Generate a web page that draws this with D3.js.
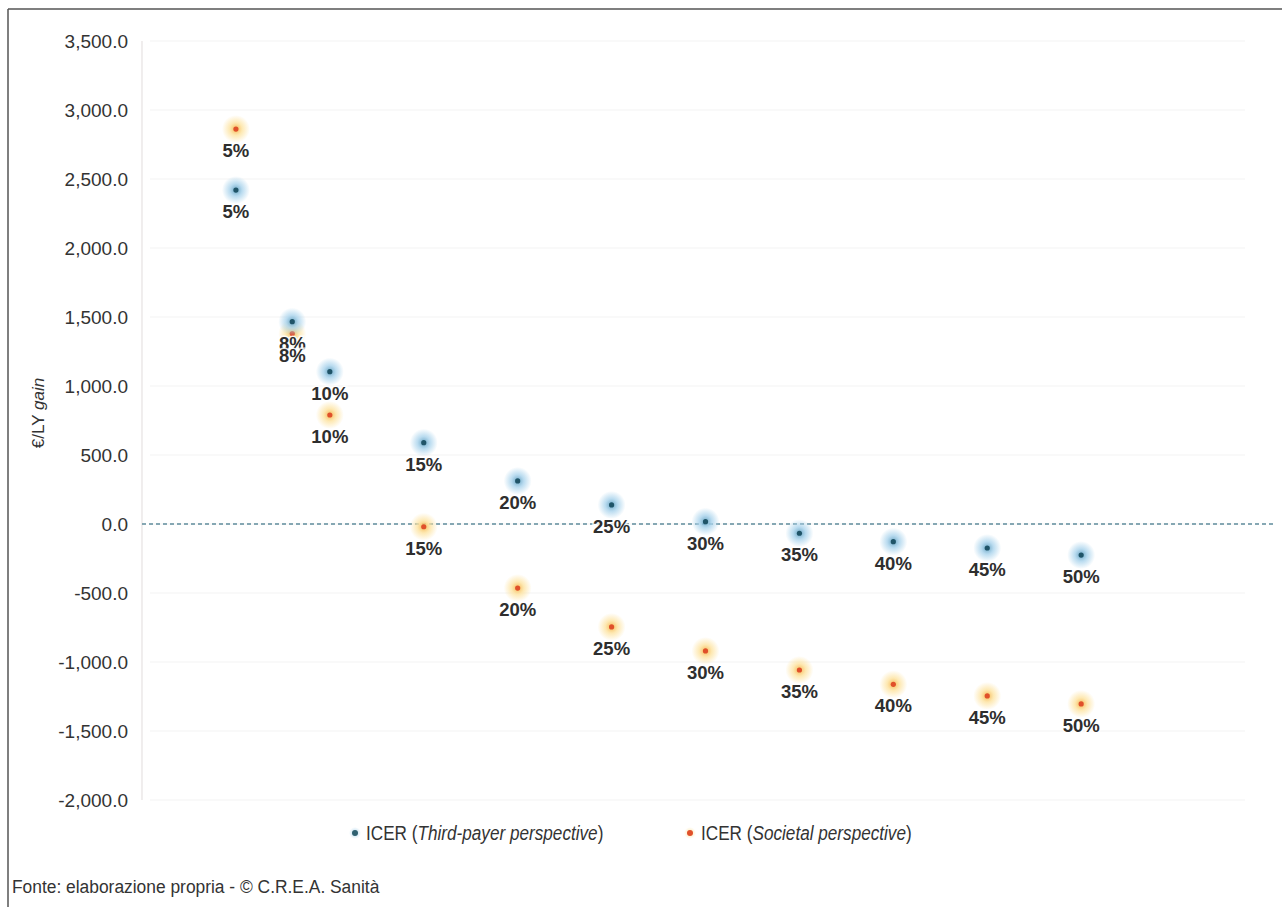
<!DOCTYPE html>
<html>
<head>
<meta charset="utf-8">
<script src="https://cdn.jsdelivr.net/npm/d3@7"></script>
<style>
  html, body { margin: 0; padding: 0; background: #fff; }
  svg { display: block; }
</style>
</head>
<body>
<svg id="chart" width="1282" height="907"></svg>
<script>
// ---- data ----
const categories = [5, 8, 10, 15, 20, 25, 30, 35, 40, 45, 50];
const categoryLabels = ["5%", "8%", "10%", "15%", "20%", "25%", "30%", "35%", "40%", "45%", "50%"];
const thirdPayer = [2420, 1466, 1104, 589, 312, 138, 17, -67, -128, -174, -225];
const societal = [2862, 1380, 790, -20, -464, -746, -920, -1058, -1162, -1246, -1304];
const yTicks = [-2000, -1500, -1000, -500, 0, 500, 1000, 1500, 2000, 2500, 3000, 3500];
const seriesNames = ["Third-payer perspective", "Societal perspective"];

const svg = d3.select("#chart");
const W = 1282, H = 907;

const x = d3.scaleLinear().domain([0, 60]).range([142, 1269]);
const y = d3.scaleLinear().domain([-2000, 3500]).range([800, 41]);

// defs: glows
const defs = svg.append("defs");
function glow(id, c1, c2) {
  const g = defs.append("radialGradient").attr("id", id);
  g.append("stop").attr("offset", "0%").attr("stop-color", c1).attr("stop-opacity", 0.95);
  g.append("stop").attr("offset", "45%").attr("stop-color", c2).attr("stop-opacity", 0.8);
  g.append("stop").attr("offset", "100%").attr("stop-color", c2).attr("stop-opacity", 0);
}
glow("gBlue", "#5f9fc0", "#a9d3ec");
glow("gOrange", "#f5b44a", "#fde3a0");

// frame
svg.append("line").attr("x1", 8).attr("x2", W).attr("y1", 9).attr("y2", 9)
  .attr("stroke", "#555").attr("stroke-width", 1.5);
svg.append("line").attr("x1", 8).attr("x2", 8).attr("y1", 9).attr("y2", H)
  .attr("stroke", "#555").attr("stroke-width", 1.5);

// faint gridlines
svg.append("g").selectAll("line").data(yTicks).join("line")
  .attr("x1", 150).attr("x2", 1245)
  .attr("y1", d => y(d)).attr("y2", d => y(d))
  .attr("stroke", "#f3f3f3").attr("stroke-width", 1);

// y axis line
svg.append("line").attr("x1", 142).attr("x2", 142).attr("y1", y(3500)).attr("y2", y(-2000))
  .attr("stroke", "#e6e2e2").attr("stroke-width", 1.2);

// y axis labels
const fmt = d3.format(",.1f");
const yAxis = d3.axisLeft(y).tickValues(yTicks)
  .tickFormat(d => fmt(d).replace("\u2212", "-")).tickSize(0).tickPadding(14);
const ga = svg.append("g").attr("transform", "translate(142,0)").call(yAxis);
ga.select(".domain").remove();
ga.selectAll("text")
  .attr("font-family", "'Liberation Sans', Arial, sans-serif")
  .attr("font-size", 19).attr("fill", "#333");

// y title
const yt = svg.append("text")
  .attr("transform", `translate(44,413) rotate(-90)`)
  .attr("text-anchor", "middle")
  .attr("font-family", "'Liberation Sans', Arial, sans-serif")
  .attr("font-size", 17).attr("fill", "#333");
yt.append("tspan").text("€/LY ");
yt.append("tspan").attr("font-style", "italic").text("gain");

// zero dashed line
svg.append("line").attr("x1", 142).attr("x2", 1275).attr("y1", y(0)).attr("y2", y(0))
  .attr("stroke", "#5f8c9c").attr("stroke-width", 1.6).attr("stroke-dasharray", "4,3");

// points
const series = [
  { vals: thirdPayer, glow: "url(#gBlue)", dot: "#1f5468" },
  { vals: societal, glow: "url(#gOrange)", dot: "#e0502a" }
];
[series[1], series[0]].forEach(s => {
  const g = svg.append("g");
  g.selectAll("circle.glow").data(categories).join("circle")
    .attr("class", "glow")
    .attr("cx", d => x(d)).attr("cy", (d, i) => y(s.vals[i]))
    .attr("r", 14).attr("fill", s.glow);
  g.selectAll("circle.dot").data(categories).join("circle")
    .attr("class", "dot")
    .attr("cx", d => x(d)).attr("cy", (d, i) => y(s.vals[i]))
    .attr("r", 2.6).attr("fill", s.dot);
});

// labels (white halo drawn via paint-order so each label is one text)
series.forEach(s => {
  svg.append("g").selectAll("text").data(categories).join("text")
    .attr("x", d => x(d)).attr("y", (d, i) => y(s.vals[i]) + 28)
    .attr("text-anchor", "middle")
    .attr("font-family", "'Liberation Sans', Arial, sans-serif")
    .attr("font-size", 18.5).attr("fill", "#2e2e2e")
    .style("font-weight", 600)
    .attr("stroke", "#fff").attr("stroke-width", 3).attr("stroke-opacity", 0.85)
    .attr("paint-order", "stroke")
    .text((d, i) => categoryLabels[i]);
});

// legend
const legend = [
  { x: 355, name: seriesNames[0], glow: "url(#gBlue)", dot: "#2e6070" },
  { x: 690, name: seriesNames[1], glow: "url(#gOrange)", dot: "#e0502a" }
];
legend.forEach(l => {
  svg.append("circle").attr("cx", l.x).attr("cy", 833).attr("r", 6).attr("fill", l.glow).attr("opacity", 0.6);
  svg.append("circle").attr("cx", l.x).attr("cy", 833).attr("r", 3).attr("fill", l.dot);
  const t = svg.append("text")
    .attr("transform", `translate(${l.x + 11},840) scale(0.88,1)`)
    .attr("font-family", "'Liberation Sans', Arial, sans-serif")
    .attr("font-size", 19.5).attr("fill", "#333");
  t.append("tspan").text("ICER (");
  t.append("tspan").attr("font-style", "italic").text(l.name);
  t.append("tspan").text(")");
});

// footer
svg.append("text")
  .attr("transform", "translate(12,893) scale(0.915,1)")
  .attr("font-family", "'Liberation Sans', Arial, sans-serif")
  .attr("font-size", 19).attr("fill", "#333")
  .text("Fonte: elaborazione propria - © C.R.E.A. Sanità");
</script>
</body>
</html>
